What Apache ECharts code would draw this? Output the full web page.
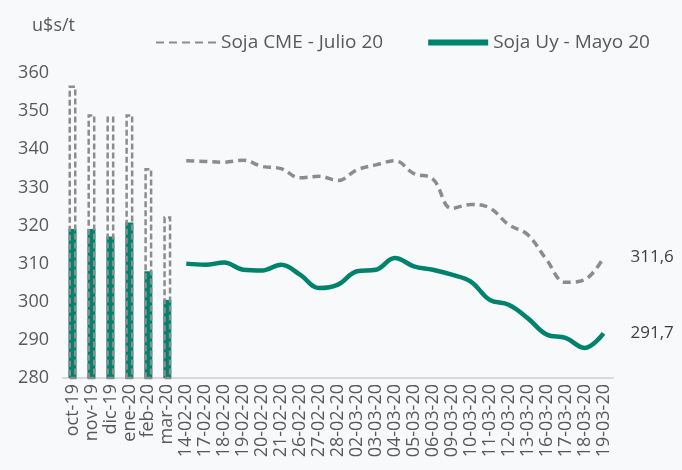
<!DOCTYPE html>
<html>
<head>
<meta charset="utf-8">
<script src="https://cdn.jsdelivr.net/npm/echarts@6/dist/echarts.min.js"></script>
<style>
  html, body { margin: 0; padding: 0; background: #f8f9fb; }
  #grafico { width: 682px; height: 470px; }
</style>
</head>
<body>
<div id="grafico"></div>
<script>
// meses (barras) y dias (lineas)
var meses = ['oct-19', 'nov-19', 'dic-19', 'ene-20', 'feb-20', 'mar-20'];
var dias = ['14-02-20', '17-02-20', '18-02-20', '19-02-20', '20-02-20', '21-02-20', '26-02-20', '27-02-20', '28-02-20',
    '02-03-20', '03-03-20', '04-03-20', '05-03-20', '06-03-20', '09-03-20', '10-03-20', '11-03-20', '12-03-20',
    '13-03-20', '16-03-20', '17-03-20', '18-03-20', '19-03-20'];

var cmeMensual = [356.7, 349.2, 348.6, 349.2, 335.1, 322.4];
var uyMensual = [319.1, 319.1, 317.1, 320.8, 308.0, 300.5];

var cmeDiario = [337.0, 336.8, 336.6, 337.1, 335.5, 334.9, 332.5, 332.9, 331.8, 334.6, 335.9, 337.0, 333.6,
    332.2, 324.5, 325.5, 324.6, 320.2, 317.6, 311.0, 305.1, 305.8, 311.6];
var uyDiario = [310.0, 309.7, 310.3, 308.4, 308.2, 309.7, 307.1, 303.6, 304.5, 308.0, 308.4, 311.5, 309.3,
    308.4, 307.1, 305.3, 300.5, 299.2, 295.7, 291.4, 290.5, 287.9, 291.7];

var categorias = meses.concat(dias);

function rellenar(valores, antes, despues) {
    var res = [];
    for (var i = 0; i < antes; i++) res.push(null);
    for (var i = 0; i < valores.length; i++) res.push(valores[i]);
    for (var i = 0; i < despues; i++) res.push(null);
    return res;
}

var fuente = 'Open Sans';
var verde = '#00836c';
var gris = '#8c8c8c';

var etiquetaFinal = {
    show: true,
    distance: 27,
    color: '#404040',
    fontSize: 17,
    fontFamily: fuente,
    formatter: function (p) {
        var v = Array.isArray(p.value) ? p.value[1] : p.value;
        return String(v).replace('.', ',');
    }
};

var grafico = echarts.init(document.getElementById('grafico'));
var option = {
    backgroundColor: '#f8f9fb',
    animation: false,
    textStyle: { fontFamily: fuente },
    legend: {
        data: [
            { name: 'Soja CME - Julio 20' },
            { name: 'Soja Uy - Mayo 20', lineStyle: { width: 6 } }
        ],
        left: 150,
        top: 28,
        itemWidth: 60,
        itemHeight: 14,
        itemGap: 42,
        itemStyle: { opacity: 0 },
        textStyle: { color: '#595959', fontSize: 19, fontFamily: fuente }
    },
    grid: {
        left: 63,
        right: 69,
        top: 73,
        bottom: 92
    },
    xAxis: {
        type: 'category',
        data: categorias,
        boundaryGap: true,
        axisLine: { lineStyle: { color: '#d9d9d9', width: 2 } },
        axisTick: { interval: 1, length: 6, lineStyle: { color: '#d9d9d9', width: 2 } },
        axisLabel: {
            interval: 0,
            rotate: 90,
            color: '#595959',
            fontSize: 18,
            fontFamily: fuente,
            margin: 6
        }
    },
    yAxis: {
        type: 'value',
        min: 280,
        max: 360,
        interval: 10,
        name: 'u$s/t',
        nameLocation: 'end',
        nameGap: 38,
        nameTextStyle: { color: '#595959', fontSize: 18, fontFamily: fuente, align: 'right', padding: [0, -12, 0, 0] },
        axisLine: { show: false },
        axisTick: { show: false },
        splitLine: { show: false },
        axisLabel: { color: '#595959', fontSize: 18, fontFamily: fuente, margin: 14 }
    },
    series: [
        {
            name: 'Uy mensual',
            type: 'bar',
            data: rellenar(uyMensual, 0, dias.length),
            barWidth: 8,
            barGap: '-100%',
            itemStyle: { color: verde },
            z: 2
        },
        {
            name: 'CME mensual',
            type: 'bar',
            data: rellenar(cmeMensual, 0, dias.length),
            barWidth: 8,
            barGap: '-100%',
            itemStyle: {
                color: 'rgba(0,0,0,0)',
                borderColor: gris,
                borderWidth: 2.5,
                borderType: [6, 3]
            },
            z: 3
        },
        {
            name: 'Soja CME - Julio 20',
            type: 'line',
            data: rellenar(cmeDiario, meses.length, 0),
            smooth: 0.4,
            showSymbol: false,
            connectNulls: false,
            lineStyle: { color: gris, width: 3.5, type: [8, 5] },
            itemStyle: { color: gris },
            endLabel: etiquetaFinal
        },
        {
            name: 'Soja Uy - Mayo 20',
            type: 'line',
            data: rellenar(uyDiario, meses.length, 0),
            smooth: 0.4,
            showSymbol: false,
            connectNulls: false,
            lineStyle: { color: verde, width: 4.5 },
            itemStyle: { color: verde },
            endLabel: etiquetaFinal
        }
    ]
};
grafico.setOption(option);
</script>
</body>
</html>
